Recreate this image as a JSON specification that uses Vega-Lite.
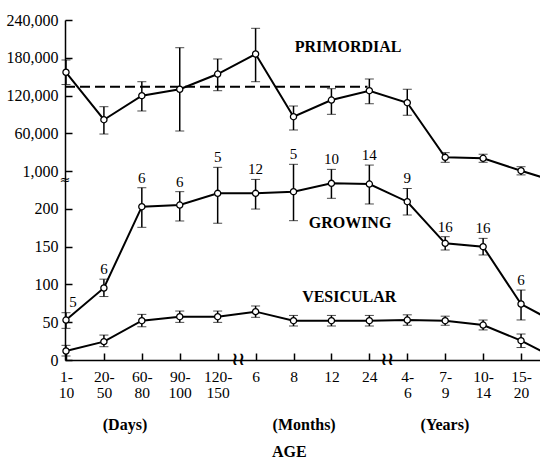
{
  "$schema": "https://vega.github.io/schema/vega-lite/v6.json",
  "width": 475,
  "height": 340,
  "autosize": {"type": "none"},
  "padding": {"left": 65, "top": 20, "right": 0, "bottom": 108},
  "background": "white",
  "config": {
    "view": {"stroke": null},
    "font": "Liberation Serif",
    "text": {"font": "Liberation Serif", "color": "black"},
    "axis": {
      "grid": false,
      "domainColor": "black",
      "domainWidth": 1.5,
      "tickColor": "black",
      "tickWidth": 1.5,
      "labelColor": "black",
      "labelFont": "Liberation Serif"
    }
  },
  "datasets": {
    "follicles": [
      {"series": "Primordial", "age": "1-10 days", "pos": 1, "mean": 157000, "lo": 137500, "hi": 176500, "n": null},
      {"series": "Primordial", "age": "20-50 days", "pos": 2, "mean": 81600, "lo": 58900, "hi": 102300, "n": null},
      {"series": "Primordial", "age": "60-80 days", "pos": 3, "mean": 119800, "lo": 95500, "hi": 142000, "n": null},
      {"series": "Primordial", "age": "90-100 days", "pos": 4, "mean": 130000, "lo": 63700, "hi": 196000, "n": null},
      {"series": "Primordial", "age": "120-150 days", "pos": 5, "mean": 154200, "lo": 127700, "hi": 178100, "n": null},
      {"series": "Primordial", "age": "6 months", "pos": 6, "mean": 186000, "lo": 142000, "hi": 226800, "n": null},
      {"series": "Primordial", "age": "8 months", "pos": 7, "mean": 86400, "lo": 65300, "hi": 103400, "n": null},
      {"series": "Primordial", "age": "12 months", "pos": 8, "mean": 112900, "lo": 90200, "hi": 130900, "n": null},
      {"series": "Primordial", "age": "24 months", "pos": 9, "mean": 127700, "lo": 107000, "hi": 146300, "n": null},
      {"series": "Primordial", "age": "4-6 years", "pos": 10, "mean": 108600, "lo": 88700, "hi": 130000, "n": null},
      {"series": "Primordial", "age": "7-9 years", "pos": 11, "mean": 21900, "lo": 14000, "hi": 29300, "n": null},
      {"series": "Primordial", "age": "10-14 years", "pos": 12, "mean": 20400, "lo": 14000, "hi": 26800, "n": null},
      {"series": "Primordial", "age": "15-20 years", "pos": 13, "mean": 600, "lo": -6000, "hi": 7000, "n": null},
      {"series": "Primordial", "age": "older (cropped)", "pos": 14, "mean": -18000, "lo": null, "hi": null, "n": null},
      {"series": "Growing", "age": "1-10 days", "pos": 1, "mean": 52.9, "lo": 41.9, "hi": 62.6, "n": "5"},
      {"series": "Growing", "age": "20-50 days", "pos": 2, "mean": 95.3, "lo": 84, "hi": 107, "n": "6"},
      {"series": "Growing", "age": "60-80 days", "pos": 3, "mean": 202.9, "lo": 175.6, "hi": 228, "n": "6"},
      {"series": "Growing", "age": "90-100 days", "pos": 4, "mean": 205.1, "lo": 184, "hi": 222.8, "n": "6"},
      {"series": "Growing", "age": "120-150 days", "pos": 5, "mean": 220.6, "lo": 181, "hi": 255, "n": "5"},
      {"series": "Growing", "age": "6 months", "pos": 6, "mean": 220.6, "lo": 199.8, "hi": 239, "n": "12"},
      {"series": "Growing", "age": "8 months", "pos": 7, "mean": 222.8, "lo": 184.4, "hi": 259, "n": "5"},
      {"series": "Growing", "age": "12 months", "pos": 8, "mean": 233.8, "lo": 214, "hi": 252.3, "n": "10"},
      {"series": "Growing", "age": "24 months", "pos": 9, "mean": 232.9, "lo": 206.5, "hi": 258, "n": "14"},
      {"series": "Growing", "age": "4-6 years", "pos": 10, "mean": 209.5, "lo": 191.9, "hi": 227, "n": "9"},
      {"series": "Growing", "age": "7-9 years", "pos": 11, "mean": 154.4, "lo": 145.6, "hi": 163.2, "n": "16"},
      {"series": "Growing", "age": "10-14 years", "pos": 12, "mean": 150, "lo": 139, "hi": 161, "n": "16"},
      {"series": "Growing", "age": "15-20 years", "pos": 13, "mean": 74.1, "lo": 53, "hi": 92.6, "n": "6"},
      {"series": "Growing", "age": "older (cropped)", "pos": 14, "mean": 47, "lo": null, "hi": null, "n": null},
      {"series": "Vesicular", "age": "1-10 days", "pos": 1, "mean": 11.9, "lo": 5.3, "hi": 19.4, "n": null},
      {"series": "Vesicular", "age": "20-50 days", "pos": 2, "mean": 24.3, "lo": 17.6, "hi": 33, "n": null},
      {"series": "Vesicular", "age": "60-80 days", "pos": 3, "mean": 52, "lo": 44, "hi": 60.4, "n": null},
      {"series": "Vesicular", "age": "90-100 days", "pos": 4, "mean": 57.3, "lo": 49.8, "hi": 64.8, "n": null},
      {"series": "Vesicular", "age": "120-150 days", "pos": 5, "mean": 57.3, "lo": 49.8, "hi": 64.8, "n": null},
      {"series": "Vesicular", "age": "6 months", "pos": 6, "mean": 64, "lo": 56.5, "hi": 71.5, "n": null},
      {"series": "Vesicular", "age": "8 months", "pos": 7, "mean": 52, "lo": 45, "hi": 59, "n": null},
      {"series": "Vesicular", "age": "12 months", "pos": 8, "mean": 52, "lo": 45, "hi": 59, "n": null},
      {"series": "Vesicular", "age": "24 months", "pos": 9, "mean": 52, "lo": 45, "hi": 59, "n": null},
      {"series": "Vesicular", "age": "4-6 years", "pos": 10, "mean": 52.9, "lo": 46, "hi": 59.8, "n": null},
      {"series": "Vesicular", "age": "7-9 years", "pos": 11, "mean": 52, "lo": 46, "hi": 58, "n": null},
      {"series": "Vesicular", "age": "10-14 years", "pos": 12, "mean": 46.3, "lo": 39.8, "hi": 52.9, "n": null},
      {"series": "Vesicular", "age": "15-20 years", "pos": 13, "mean": 25.6, "lo": 16.5, "hi": 34.4, "n": null},
      {"series": "Vesicular", "age": "older (cropped)", "pos": 14, "mean": 0, "lo": null, "hi": null, "n": null}
    ],
    "notes": [
      {"label": "PRIMORDIAL", "pos": 8.44, "level": 414.6},
      {"label": "GROWING", "pos": 8.49, "level": 180.9},
      {"label": "VESICULAR", "pos": 8.47, "level": 83},
      {"label": "(Days)", "pos": 2.556, "level": -86},
      {"label": "(Months)", "pos": 7.28, "level": -86},
      {"label": "(Years)", "pos": 10.99, "level": -86},
      {"label": "AGE", "pos": 6.89, "level": -121.4}
    ],
    "breaks": [
      {"axis": "y", "pos": 0.974, "level": 238},
      {"axis": "x", "pos": 5.54, "level": 0},
      {"axis": "x", "pos": 9.47, "level": 0}
    ],
    "reference": [
      {"label": "primordial reference level", "from": 0.974, "to": 8.95, "value": 134000}
    ]
  },
  "data": {"name": "follicles"},
  "layer": [
    {
      "layer": [
        {
          "transform": [{"filter": "datum.series !== 'Primordial'"}],
          "mark": {"type": "line", "color": "black", "strokeWidth": 2},
          "encoding": {
            "x": {
              "field": "pos", "type": "quantitative",
              "scale": {"domain": [0.974, 13.5], "nice": false, "zero": false},
              "axis": {
                "values": [1, 2, 3, 4, 5, 6, 7, 8, 9, 10, 11, 12, 13],
                "tickCount": 30,
                "labelExpr": "split(['1-|10','20-|50','60-|80','90-|100','120-|150','6','8','12','24','4-|6','7-|9','10-|14','15-|20'][datum.value - 1], '|')",
                "tickSize": -7,
                "labelPadding": 16,
                "labelLineHeight": 16,
                "labelFontSize": 15.5,
                "labelOverlap": false,
                "labelFlush": false,
                "labelAngle": 0,
                "orient": "bottom",
                "title": null
              }
            },
            "y": {
              "field": "mean", "type": "quantitative",
              "scale": {"domain": [0, 450], "nice": false, "zero": false},
              "axis": {
                "values": [0, 50, 100, 150, 200, 250, 300, 350, 400, 450],
                "tickCount": 30,
                "labelExpr": "datum.value <= 200 ? format(datum.value, 'd') : ['1,000','60,000','120,000','180,000','240,000'][(datum.value - 250) / 50]",
                "tickSize": -7,
                "labelPadding": 14,
                "labelFontSize": 16,
                "labelOverlap": false,
                "labelFlush": false,
                "orient": "left",
                "title": null
              }
            },
            "detail": {"field": "series"}
          }
        },
        {
          "transform": [{"filter": "datum.series !== 'Primordial' && isValid(datum.lo)"}],
          "mark": {"type": "errorbar", "ticks": {"size": 9, "color": "black", "strokeWidth": 1.5}, "rule": {"color": "black", "strokeWidth": 1.5}},
          "encoding": {
            "x": {"field": "pos", "type": "quantitative", "scale": {"domain": [0.974, 13.5], "nice": false, "zero": false}},
            "y": {"field": "lo", "type": "quantitative", "scale": {"domain": [0, 450], "nice": false, "zero": false}},
            "y2": {"field": "hi"}
          }
        },
        {
          "transform": [{"filter": "datum.series !== 'Primordial'"}],
          "mark": {"type": "point", "shape": "circle", "filled": true, "fill": "white", "stroke": "black", "strokeWidth": 1.3, "size": 38, "opacity": 1},
          "encoding": {
            "x": {"field": "pos", "type": "quantitative", "scale": {"domain": [0.974, 13.5], "nice": false, "zero": false}},
            "y": {"field": "mean", "type": "quantitative", "scale": {"domain": [0, 450], "nice": false, "zero": false}}
          }
        },
        {
          "transform": [{"filter": "datum.series === 'Growing' && isValid(datum.n) && datum.pos > 1"}],
          "mark": {"type": "text", "baseline": "bottom", "dy": -2, "fontSize": 15, "color": "black"},
          "encoding": {
            "x": {"field": "pos", "type": "quantitative", "scale": {"domain": [0.974, 13.5], "nice": false, "zero": false}},
            "y": {"field": "hi", "type": "quantitative", "scale": {"domain": [0, 450], "nice": false, "zero": false}},
            "text": {"field": "n"}
          }
        },
        {
          "transform": [{"filter": "datum.series === 'Growing' && isValid(datum.n) && datum.pos === 1"}],
          "mark": {"type": "text", "baseline": "bottom", "dy": -3, "dx": 7, "fontSize": 15, "color": "black"},
          "encoding": {
            "x": {"field": "pos", "type": "quantitative", "scale": {"domain": [0.974, 13.5], "nice": false, "zero": false}},
            "y": {"field": "hi", "type": "quantitative", "scale": {"domain": [0, 450], "nice": false, "zero": false}},
            "text": {"field": "n"}
          }
        },
        {
          "data": {"name": "notes"},
          "mark": {"type": "text", "fontSize": 16, "fontWeight": "bold", "color": "black", "baseline": "middle", "align": "center"},
          "encoding": {
            "x": {"field": "pos", "type": "quantitative", "scale": {"domain": [0.974, 13.5], "nice": false, "zero": false}},
            "y": {"field": "level", "type": "quantitative", "scale": {"domain": [0, 450], "nice": false, "zero": false}},
            "text": {"field": "label"}
          }
        },
        {
          "data": {"name": "breaks"},
          "transform": [{"filter": "datum.axis === 'y'"}],
          "mark": {"type": "text", "font": "DejaVu Sans", "fontSize": 13, "color": "black", "baseline": "middle", "align": "center", "text": "≈"},
          "encoding": {
            "x": {"field": "pos", "type": "quantitative", "scale": {"domain": [0.974, 13.5], "nice": false, "zero": false}},
            "y": {"field": "level", "type": "quantitative", "scale": {"domain": [0, 450], "nice": false, "zero": false}}
          }
        },
        {
          "data": {"name": "breaks"},
          "transform": [{"filter": "datum.axis === 'x'"}],
          "mark": {"type": "text", "font": "DejaVu Sans", "fontSize": 18, "fontWeight": "bold", "color": "black", "baseline": "middle", "align": "center", "text": "≀≀"},
          "encoding": {
            "x": {"field": "pos", "type": "quantitative", "scale": {"domain": [0.974, 13.5], "nice": false, "zero": false}},
            "y": {"field": "level", "type": "quantitative", "scale": {"domain": [0, 450], "nice": false, "zero": false}}
          }
        }
      ]
    },
    {
      "layer": [
        {
          "data": {"name": "reference"},
          "mark": {"type": "rule", "color": "black", "strokeWidth": 1.8, "strokeDash": [10, 5]},
          "encoding": {
            "x": {"field": "from", "type": "quantitative", "scale": {"domain": [0.974, 13.5], "nice": false, "zero": false}},
            "x2": {"field": "to"},
            "y": {
              "field": "value", "type": "quantitative",
              "scale": {"domain": [-300000, 240000], "nice": false, "zero": false},
              "axis": {"orient": "right", "domain": false, "ticks": false, "labels": false, "title": null, "grid": false}
            }
          }
        },
        {
          "transform": [{"filter": "datum.series === 'Primordial'"}],
          "mark": {"type": "line", "color": "black", "strokeWidth": 2},
          "encoding": {
            "x": {"field": "pos", "type": "quantitative", "scale": {"domain": [0.974, 13.5], "nice": false, "zero": false}},
            "y": {"field": "mean", "type": "quantitative", "scale": {"domain": [-300000, 240000], "nice": false, "zero": false}}
          }
        },
        {
          "transform": [{"filter": "datum.series === 'Primordial' && isValid(datum.lo)"}],
          "mark": {"type": "errorbar", "ticks": {"size": 9, "color": "black", "strokeWidth": 1.5}, "rule": {"color": "black", "strokeWidth": 1.5}},
          "encoding": {
            "x": {"field": "pos", "type": "quantitative", "scale": {"domain": [0.974, 13.5], "nice": false, "zero": false}},
            "y": {"field": "lo", "type": "quantitative", "scale": {"domain": [-300000, 240000], "nice": false, "zero": false}},
            "y2": {"field": "hi"}
          }
        },
        {
          "transform": [{"filter": "datum.series === 'Primordial'"}],
          "mark": {"type": "point", "shape": "circle", "filled": true, "fill": "white", "stroke": "black", "strokeWidth": 1.3, "size": 38, "opacity": 1},
          "encoding": {
            "x": {"field": "pos", "type": "quantitative", "scale": {"domain": [0.974, 13.5], "nice": false, "zero": false}},
            "y": {"field": "mean", "type": "quantitative", "scale": {"domain": [-300000, 240000], "nice": false, "zero": false}}
          }
        }
      ]
    }
  ],
  "resolve": {"scale": {"y": "independent"}}
}
